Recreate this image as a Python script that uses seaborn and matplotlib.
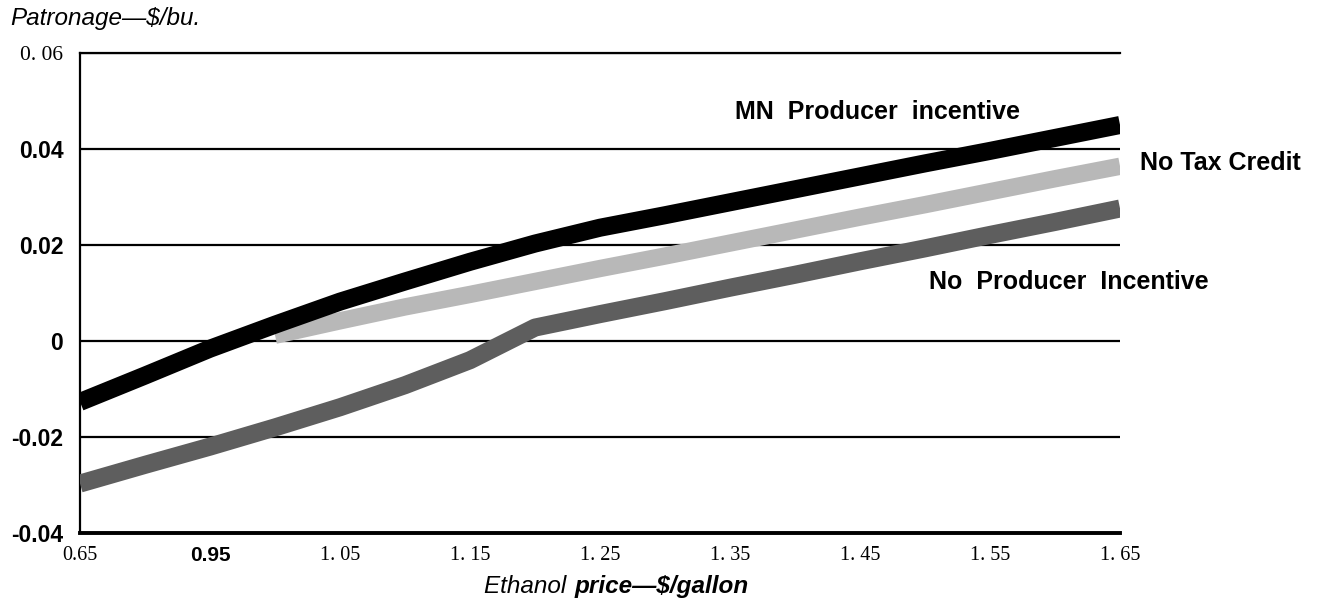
import numpy as np
import matplotlib
matplotlib.use('Agg')
import matplotlib.pyplot as plt
import seaborn as sns

sns.set_style('white')
plt.rcParams['font.family'] = ['Liberation Sans', 'DejaVu Sans']
plt.rcParams['text.color'] = 'black'
plt.rcParams['xtick.color'] = 'black'
plt.rcParams['ytick.color'] = 'black'

# ethanol price ($/gallon) and patronage ($/bu.)
price = [0.85, 0.90, 0.95, 1.00, 1.05, 1.10, 1.15, 1.20, 1.25,
         1.30, 1.35, 1.40, 1.45, 1.50, 1.55, 1.60, 1.65]
mn_incentive = [-0.0127, -0.0072, -0.0016, 0.0034, 0.0082, 0.0124, 0.0165, 0.0203, 0.0236,
                0.0262, 0.0289, 0.0316, 0.0343, 0.0370, 0.0396, 0.0423, 0.0450]
no_tax_credit = [np.nan, np.nan, np.nan, 0.0012, 0.0042, 0.0071, 0.0097, 0.0124, 0.0151,
                 0.0177, 0.0204, 0.0231, 0.0258, 0.0284, 0.0311, 0.0338, 0.0364]
no_incentive = [-0.0297, -0.0258, -0.0220, -0.0180, -0.0138, -0.0092, -0.0040, 0.0028, 0.0056,
                0.0083, 0.0111, 0.0138, 0.0166, 0.0193, 0.0221, 0.0248, 0.0276]

xtick_pos = [0.85, 0.90, 0.95, 1.00, 1.05, 1.10, 1.15, 1.20, 1.25,
             1.30, 1.35, 1.40, 1.45, 1.50, 1.55, 1.60, 1.65]
xtick_lab = ['0.65', '', '0.95', '', '1. 05', '', '1. 15', '', '1. 25',
             '', '1. 35', '', '1. 45', '', '1. 55', '', '1. 65']
ytick_pos = [-0.04, -0.02, 0, 0.02, 0.04, 0.06]
ytick_lab = ['-0.04', '-0.02', '0', '0.02', '0.04', '0. 06']

fig = plt.figure(figsize=(13.18, 6.02), dpi=100)
ax = fig.add_axes([0.0607, 0.1146, 0.7891, 0.7974])

sns.lineplot(x=price, y=no_tax_credit, ax=ax, color='#b8b8b8', linewidth=12.5,
             solid_capstyle='butt', zorder=3)
sns.lineplot(x=price, y=no_incentive, ax=ax, color='#5e5e5e', linewidth=13,
             solid_capstyle='butt', zorder=3)
sns.lineplot(x=price, y=mn_incentive, ax=ax, color='black', linewidth=13,
             solid_capstyle='butt', zorder=4)

ax.set_xlim(0.85, 1.65)
ax.set_ylim(-0.04, 0.06)
ax.set_xticks(xtick_pos, xtick_lab)
ax.set_yticks(ytick_pos, ytick_lab)
ax.set_xlabel('')
ax.set_ylabel('')

ax.grid(axis='y', color='black', linewidth=1.6)
ax.grid(axis='x', visible=False)
ax.set_axisbelow(True)

ax.spines['right'].set_visible(False)
ax.spines['top'].set_linewidth(1.6)
ax.spines['left'].set_linewidth(1.6)
ax.spines['bottom'].set_linewidth(2.8)
for s in ['top', 'left', 'bottom']:
    ax.spines[s].set_color('black')

ax.tick_params(axis='x', direction='in', length=15, width=2, color='black', pad=9)
ax.tick_params(axis='y', length=0, pad=12)

# mixed fonts on the tick labels, as in the original
for lab in ax.get_xticklabels():
    if lab.get_text() == '0.95':
        lab.set_fontfamily('Liberation Sans')
        lab.set_fontweight('bold')
        lab.set_fontsize(15)
    else:
        lab.set_fontfamily('Liberation Serif')
        lab.set_fontsize(14.5)
for lab in ax.get_yticklabels():
    if lab.get_text() == '0. 06':
        lab.set_fontfamily('Liberation Serif')
        lab.set_fontsize(15.5)
    else:
        lab.set_fontfamily('Liberation Sans')
        lab.set_fontweight('bold')
        lab.set_fontsize(16.5)

ax.text(1.4638, 0.0478, 'MN  Producer  incentive', ha='center', va='center',
        fontsize=18, fontweight='bold')
ax.text(1.6654, 0.0371, 'No Tax Credit', ha='left', va='center',
        fontsize=18, fontweight='bold')
ax.text(1.6108, 0.0122, 'No  Producer  Incentive', ha='center', va='center',
        fontsize=18, fontweight='bold')

fig.text(0.0076, 0.988, 'Patronage\u2014$/bu.', ha='left', va='top',
         fontsize=17.5, fontstyle='italic')
fig.text(0.4348, 0.015, 'Ethanol ', ha='right', va='baseline',
         fontsize=17.5, fontstyle='italic')
fig.text(0.4362, 0.015, 'price\u2014$/gallon', ha='left', va='baseline',
         fontsize=17.5, fontstyle='italic', fontweight='bold')

fig.savefig('out.png', dpi=100)
